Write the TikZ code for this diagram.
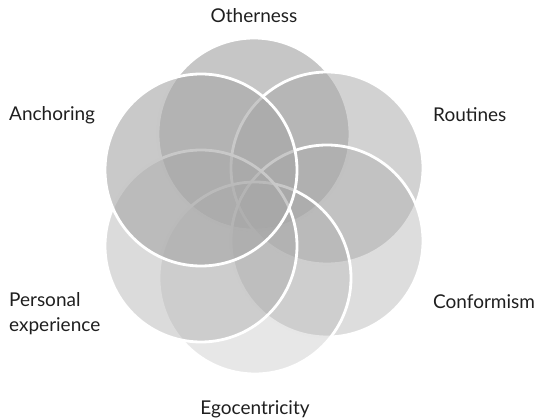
\documentclass[tikz,border=0pt]{standalone}
\usepackage{fontspec}
\setmainfont{Lato}
\usetikzlibrary{positioning}

\tikzset{
  petal/.style={circle, draw=white, line width=2.8pt, fill=black!35, minimum size=192pt, inner sep=0pt},
  tag/.style={font=\fontsize{19}{25}\selectfont, text=black!88, inner sep=0pt, align=left}
}

\begin{document}
\begin{tikzpicture}[x=1pt,y=-1pt]
\useasboundingbox (0,0) rectangle (542,419);

% Circles, clockwise from the top
\node[petal, fill opacity=0.64] (otherness)     at (254,134) {};
\node[petal, fill opacity=0.50] (routines)      at (327,168) {};
\node[petal, fill opacity=0.38] (conformism)    at (327,241) {};
\node[petal, fill opacity=0.27] (egocentricity) at (255,278) {};
\node[petal, fill opacity=0.40] (personal)      at (201,246) {};
\node[petal, fill opacity=0.61] (anchoring)     at (201,170) {};

% Labels
\node[tag, above=14pt of otherness]     (otherness_txt)     {Otherness};
\node[tag, below=25pt of egocentricity] (egocentricity_txt) {Egocentricity};
\node[tag, anchor=west] (anchoring_txt)  at (9,115)   {Anchoring};
\node[tag, anchor=west] (routines_txt)   at (433,115) {Routines};
\node[tag, anchor=west] (personal_txt)   at (9,314)   {Personal\\experience};
\node[tag, anchor=west] (conformism_txt) at (433,302) {Conformism};

\end{tikzpicture}
\end{document}
